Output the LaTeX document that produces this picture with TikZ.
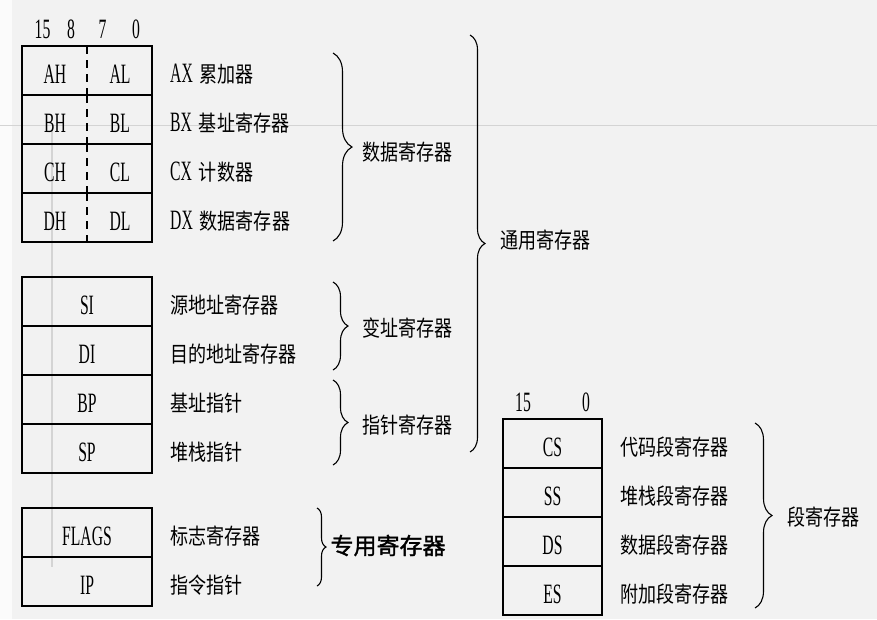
\documentclass[tikz,border=0pt]{standalone}
\usepackage{fontspec}
\setmainfont[FakeStretch=0.56]{Liberation Serif}
\newfontfamily\cjk[FakeStretch=0.82]{Noto Sans CJK SC}
\newfontfamily\cjkwide[FakeBold=1.5]{Noto Sans CJK SC}
\usepackage{tikz}
\usetikzlibrary{calc}
\usetikzlibrary{decorations.pathreplacing}
\usepackage{xcolor}
\definecolor{slidebg}{HTML}{F2F2F2}
\definecolor{slideline}{HTML}{D4D4D4}
\newcommand{\zhtxt}[1]{{\cjk\fontsize{22}{26}\selectfont #1}}
\newcommand{\rgcell}[4][]{\node[regcell,#1] (#2) at (#3) {};
	\node[regtxt] (#2t) at (#2.center) {#4};}
\newcommand{\rgsplit}[4]{\node[regcell] (#1) at (#2) {};
	\draw[regdiv] (#1.north) -- (#1.south);
	\node[regtxt] (#1h) at ($(#1.center)+(-32,0)$) {#3};
	\node[regtxt] (#1l) at ($(#1.center)+(33,0)$) {#4};}
\newcommand{\rglabel}[2]{\node[regname] (#1n) at ($(#1.east)+(18,0)$) {#2};}
\tikzset{
	regcell/.style={draw,line width=1.8pt,minimum width=130pt,minimum height=49pt,inner sep=0pt,outer sep=0pt},
	regdiv/.style={line width=1.3pt,dash pattern=on 8pt off 6pt},
	regtxt/.style={inner sep=0pt,yshift=-4pt,font=\fontsize{28}{30}\selectfont},
	regname/.style={anchor=west,inner sep=0pt,yshift=-4pt,font=\fontsize{28}{30}\selectfont},
	bittxt/.style={inner sep=0pt,font=\fontsize{28}{30}\selectfont},
	regbrace/.style={decorate,decoration={brace,amplitude=#1},line width=1.1pt},
	bracetxt/.style={midway,anchor=west,inner sep=0pt}
}

\begin{document}
\begin{tikzpicture}[x=1pt,y=-1pt]
	\coordinate (O) at (0,0);
	
	\useasboundingbox (0,0) rectangle (877,619);
	\fill[slidebg] (0,0) rectangle (877,619);
	\fill[white!70!slidebg] (0,0) rectangle (12,619);
	\draw[slideline] (0,125) -- (877,125);
	\draw[slideline,line width=1.5pt] (52,130) -- (52,567);
	
	\rgsplit{ax}{$(O)+(87,70.5)$}{AH}{AL}
	\rgsplit{bx}{$(ax)+(0,49)$}{BH}{BL}
	\rgsplit{cx}{$(bx)+(0,49)$}{CH}{CL}
	\rgsplit{dx}{$(cx)+(0,49)$}{DH}{DL}
	
	\rglabel{ax}{AX\hspace{7pt}\zhtxt{累加器}}
	\rglabel{bx}{BX\hspace{7pt}\zhtxt{基址寄存器}}
	\rglabel{cx}{CX\hspace{7pt}\zhtxt{计数器}}
	\rglabel{dx}{DX\hspace{7pt}\zhtxt{数据寄存器}}
	
	\node[bittxt] (bit15) at ($(ax.north west)+(20.5,-16.5)$) {15};
	\node[bittxt] (bit8) at ($(ax.north west)+(49,-16.5)$) {8};
	\node[bittxt] (bit7) at ($(ax.north west)+(80.5,-16.5)$) {7};
	\node[bittxt] (bit0) at ($(ax.north west)+(114,-16.5)$) {0};
	
	\rgcell{si}{$(O)+(87,301.5)$}{SI}
	\rgcell{di}{$(si)+(0,49)$}{DI}
	\rgcell{bp}{$(di)+(0,49)$}{BP}
	\rgcell{sp}{$(bp)+(0,49)$}{SP}
	
	\rglabel{si}{\zhtxt{源地址寄存器}}
	\rglabel{di}{\zhtxt{目的地址寄存器}}
	\rglabel{bp}{\zhtxt{基址指针}}
	\rglabel{sp}{\zhtxt{堆栈指针}}
	
	\rgcell{flags}{$(O)+(87,532.5)$}{FLAGS}
	\rgcell{ip}{$(flags)+(0,49)$}{IP}
	
	\rglabel{flags}{\zhtxt{标志寄存器}}
	\rglabel{ip}{\zhtxt{指令指针}}
	
	\rgcell[minimum width=99pt]{cs}{$(O)+(552.5,443.5)$}{CS}
	\rgcell[minimum width=99pt]{ss}{$(cs)+(0,49)$}{SS}
	\rgcell[minimum width=99pt]{ds}{$(ss)+(0,49)$}{DS}
	\rgcell[minimum width=99pt]{es}{$(ds)+(0,49)$}{ES}
	
	\rglabel{cs}{\zhtxt{代码段寄存器}}
	\rglabel{ss}{\zhtxt{堆栈段寄存器}}
	\rglabel{ds}{\zhtxt{数据段寄存器}}
	\rglabel{es}{\zhtxt{附加段寄存器}}
	
	\node[bittxt] (sbit15) at ($(cs.north west)+(20,-16.5)$) {15};
	\node[bittxt] (sbit0) at ($(cs.north west)+(83,-16.5)$) {0};
	
	\draw[regbrace=19pt] ($(ax.north east)+(181,7)$) -- ($(dx.south east)+(181,-1)$)
		node[bracetxt,xshift=29pt,yshift=-5.5pt] (datab) {\zhtxt{数据寄存器}};
	\draw[regbrace=15pt] ($(si.north east)+(181,5)$) -- ($(di.south east)+(181,-5)$)
		node[bracetxt,xshift=29pt,yshift=-2pt] (indexb) {\zhtxt{变址寄存器}};
	\draw[regbrace=15pt] ($(bp.north east)+(181,5)$) -- ($(sp.south east)+(181,-8)$)
		node[bracetxt,xshift=29pt,yshift=-2.5pt] (pointb) {\zhtxt{指针寄存器}};
	\draw[regbrace=15pt] ($(ax.north east)+(318,-11)$) -- ($(sp.south east)+(318,-21)$)
		node[bracetxt,xshift=30pt,yshift=3.5pt] (generalb) {\zhtxt{通用寄存器}};
	\draw[regbrace=9pt] ($(flags.north east)+(165,0)$) -- ($(ip.south east)+(165,-20)$)
		node[bracetxt,xshift=13pt,yshift=1.5pt] (specialb) {\cjkwide\fontsize{23}{26}\selectfont 专用寄存器};
	\draw[regbrace=17pt] ($(cs.north east)+(153,4)$) -- ($(es.south east)+(153,-7)$)
		node[bracetxt,xshift=32pt,yshift=-1.5pt] (segb) {\zhtxt{段寄存器}};
	
\end{tikzpicture}
\end{document}
